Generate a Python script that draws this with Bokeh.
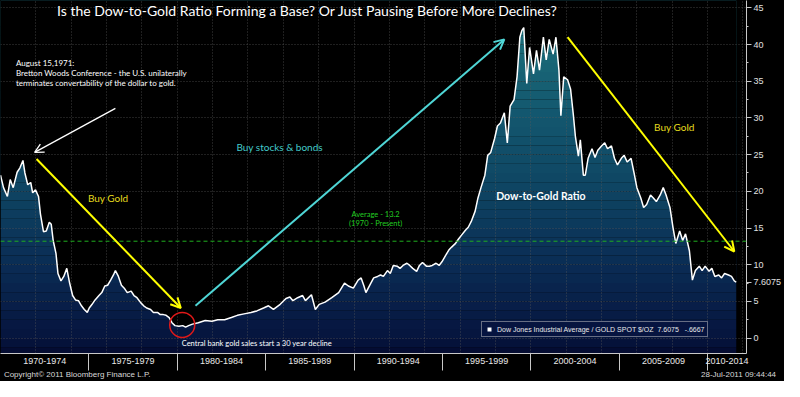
import numpy as np
from bokeh.plotting import figure
from bokeh.models import (FixedTicker, Label, Arrow, OpenHead, Span, Legend, LegendItem,
                          LinearAxis, NumeralTickFormatter)
from bokeh.embed import file_html
from bokeh.resources import INLINE

# ---------------- data ----------------
years = [
    1970.00, 1970.17, 1970.39, 1970.55, 1970.72, 1970.94, 1971.10, 1971.27, 1971.38, 1971.54,
    1971.71, 1971.82, 1971.98, 1972.15, 1972.26, 1972.43, 1972.59, 1972.76, 1972.87, 1972.98,
    1973.14, 1973.25, 1973.42, 1973.58, 1973.75, 1973.91, 1974.08, 1974.24, 1974.41, 1974.58,
    1974.74, 1974.91, 1975.02, 1975.18, 1975.35, 1975.57, 1975.73, 1975.90, 1976.06, 1976.23,
    1976.39, 1976.50, 1976.67, 1976.84, 1977.00, 1977.17, 1977.39, 1977.55, 1977.72, 1977.94,
    1978.10, 1978.27, 1978.49, 1978.65, 1978.88, 1979.04, 1979.21, 1979.37, 1979.54, 1979.70,
    1979.87, 1980.09, 1980.31, 1980.47, 1980.64, 1980.86, 1981.19, 1981.58, 1981.96, 1982.29,
    1982.68, 1983.06, 1983.40, 1983.78, 1984.17, 1984.50, 1984.88, 1985.16, 1985.44, 1985.82,
    1986.15, 1986.37, 1986.54, 1986.81, 1987.09, 1987.25, 1987.59, 1987.81, 1988.03, 1988.36,
    1988.74, 1989.13, 1989.46, 1989.68, 1989.96, 1990.23, 1990.40, 1990.56, 1990.67, 1990.95,
    1991.11, 1991.33, 1991.50, 1991.66, 1991.89, 1992.05, 1992.22, 1992.44, 1992.60, 1992.77,
    1992.99, 1993.15, 1993.32, 1993.54, 1993.70, 1993.87, 1994.09, 1994.26, 1994.42, 1994.64,
    1994.81, 1994.97, 1995.19, 1995.36, 1995.52, 1995.74, 1995.91, 1996.07, 1996.30, 1996.46,
    1996.63, 1996.85, 1997.01, 1997.18, 1997.40, 1997.56, 1997.73, 1997.95, 1998.11, 1998.28,
    1998.50, 1998.67, 1998.83, 1999.05, 1999.22, 1999.38, 1999.49, 1999.60, 1999.77, 1999.93,
    2000.15, 2000.32, 2000.49, 2000.71, 2000.87, 2001.04, 2001.26, 2001.42, 2001.59, 2001.70,
    2001.86, 2002.08, 2002.25, 2002.41, 2002.52, 2002.69, 2002.80, 2002.97, 2003.08, 2003.24,
    2003.46, 2003.63, 2003.79, 2004.01, 2004.18, 2004.34, 2004.56, 2004.73, 2004.90, 2005.12,
    2005.28, 2005.45, 2005.67, 2005.83, 2006.00, 2006.22, 2006.38, 2006.55, 2006.77, 2006.93,
    2007.10, 2007.32, 2007.49, 2007.65, 2007.87, 2008.04, 2008.20, 2008.42, 2008.59, 2008.75,
    2008.97, 2009.14, 2009.31, 2009.53, 2009.69, 2009.86, 2010.08, 2010.24, 2010.41, 2010.63,
    2010.79, 2010.96, 2011.18, 2011.35, 2011.51, 2011.62,
]
ratio = [
    22.2, 20.5, 19.3, 21.6, 20.5, 22.6, 23.2, 24.2, 22.5, 20.9,
    21.2, 19.8, 20.2, 19.3, 16.9, 14.5, 14.6, 15.8, 15.5, 13.3,
    11.5, 8.8, 7.8, 8.4, 9.5, 7.5, 5.8, 5.2, 5.1, 4.4,
    3.9, 3.5, 4.1, 4.6, 5.2, 5.8, 6.2, 7.1, 7.2, 7.9,
    8.6, 9.2, 8.4, 7.2, 6.8, 6.2, 6.4, 5.8, 5.5, 4.8,
    4.4, 4.1, 3.9, 3.5, 3.5, 3.2, 3.2, 3.1, 2.8, 2.1,
    1.7, 1.6, 1.7, 1.5, 1.7, 1.9, 2.1, 2.4, 2.3, 2.5,
    2.5, 2.8, 3.1, 3.3, 3.5, 3.7, 4.1, 4.4, 3.9, 4.6,
    5.4, 5.6, 5.1, 5.5, 5.8, 5.1, 5.9, 3.9, 4.6, 4.9,
    5.5, 6.2, 7.5, 7.1, 6.8, 7.9, 8.2, 7.1, 6.2, 7.5,
    8.2, 8.4, 8.6, 8.4, 9.2, 8.8, 9.9, 9.8, 9.5, 9.9,
    10.2, 9.9, 9.5, 9.1, 9.9, 10.3, 9.8, 9.8, 9.9, 10.2,
    9.9, 10.4, 11.3, 12.0, 12.4, 12.9, 13.5, 14.0, 14.7, 15.1,
    15.9, 17.3, 19.1, 20.5, 22.2, 24.9, 25.3, 27.2, 28.9, 29.3,
    30.7, 26.6, 31.6, 32.5, 35.6, 41.0, 41.9, 42.3, 34.7, 39.6,
    36.0, 39.2, 36.5, 41.0, 37.9, 40.7, 38.7, 41.0, 36.5, 30.3,
    35.6, 35.2, 33.9, 30.3, 27.5, 24.8, 27.0, 22.2, 22.2, 24.5,
    25.8, 24.6, 25.6, 26.2, 26.6, 25.8, 26.2, 24.5, 23.6, 24.5,
    24.9, 24.0, 24.5, 22.6, 20.5, 19.1, 17.8, 18.2, 19.5, 19.1,
    18.6, 19.5, 20.5, 19.5, 17.8, 15.1, 12.9, 14.6, 13.3, 14.2,
    11.9, 7.9, 9.2, 9.8, 9.2, 9.8, 9.1, 9.5, 8.4, 8.6,
    8.2, 8.8, 8.6, 8.4, 7.8, 7.6075,
]
average = 13.2
change = "-.6667"
periods = ["1970-1974", "1975-1979", "1980-1984", "1985-1989", "1990-1994",
           "1995-1999", "2000-2004", "2005-2009", "2010-2014"]
period_starts = [1970, 1975, 1980, 1985, 1990, 1995, 2000, 2005, 2010]
y_ticks = [0, 5, 10, 15, 20, 25, 30, 35, 40, 45]
copyright_text = "Copyright\u00a9 2011 Bloomberg Finance L.P."
stamp_text = "28-Jul-2011 09:44:44"

# annotation anchor points (year, ratio)
white_arrow = (1976.5, 31.3, 1971.93, 25.3)
gold_arrow_1 = (1972.04, 24.4, 1980.2, 4.1)
stocks_arrow = (1981.03, 4.4, 1998.5, 40.7)
gold_arrow_2 = (2002.08, 41.0, 2011.51, 11.8)
bottom_circle = (1980.28, 1.8)

# ---------------- layout ----------------
W, H = 784, 381
X_START, X_END = 1970.0, 2012.2
Y_START, Y_END = -2.1, 46.0
FRAME_W_EST = 749
PX_PER_YEAR = FRAME_W_EST / (X_END - X_START)

p = figure(width=W, height=H, x_range=(X_START, X_END), y_range=(Y_START, Y_END),
           y_axis_location="right", output_backend="svg", toolbar_location=None,
           min_border_left=0, min_border_top=0, min_border_right=0,
           min_border_bottom=0, background_fill_color="black",
           border_fill_color="black", border_fill_alpha=1.0, outline_line_color=None,
           styles={"background-color": "black"})

# vertical gradient bands under the curve
edges = np.arange(-2.5, 46.26, 1.25)
stop_v = [-2.5, 0, 10, 20, 30, 40, 46]
stop_c = np.array([[3, 10, 46], [6, 20, 62], [10, 44, 84], [14, 68, 98],
                   [19, 86, 110], [26, 106, 120], [30, 116, 128]], dtype=float)
mids = (edges[:-1] + edges[1:]) / 2
cols = ["#%02x%02x%02x" % tuple(int(round(np.interp(m, stop_v, stop_c[:, k]))) for k in range(3))
        for m in mids]
p.quad(left=years[0], right=years[-1], bottom=edges[:-1], top=edges[1:],
       fill_color=cols, line_color=None, level="image")
p.varea(x=years, y1=ratio, y2=Y_END + 5, fill_color="black", level="image")

# grid
p.xgrid.ticker = FixedTicker(ticks=list(range(1970, 2014, 2)))
p.ygrid.ticker = FixedTicker(ticks=y_ticks)
for g in (p.xgrid, p.ygrid):
    g.grid_line_color = "#5a5a5a"
    g.grid_line_dash = "1 2"
    g.grid_line_alpha = 0.7

# series line
p.line(years, ratio, line_color="white", line_width=1.5)

# average line
p.add_layout(Span(location=average, dimension="width", line_color="#1fae1f",
                  line_dash="4 3", line_width=1))

# x axis: period labels centred in their bands, long separators at band edges
centers = [(s + min(s + 5, X_END)) / 2 for s in period_starts]
xa = p.xaxis[0]
xa.ticker = FixedTicker(ticks=centers, minor_ticks=period_starts[1:])
xa.major_label_overrides = {c: t for c, t in zip(centers, periods)}
xa.major_tick_out = 0
xa.major_tick_in = 0
xa.minor_tick_out = 17
xa.minor_tick_in = 0
xa.major_label_standoff = -13
xa.major_label_text_font = "Liberation Sans"
xa.major_label_text_font_size = "9px"
xa.major_label_text_color = "#e8e8e8"
xa.axis_line_color = "#c8c8c8"
xa.minor_tick_line_color = "#c8c8c8"

# footer row (copyright at left, time stamp at right)
copy_x = X_START + 77 / PX_PER_YEAR
stamp_x = X_START + (W - 43) / PX_PER_YEAR
fa = LinearAxis(ticker=FixedTicker(ticks=[copy_x, stamp_x], minor_ticks=[]),
                major_label_overrides={copy_x: copyright_text, stamp_x: stamp_text},
                major_tick_out=0, major_tick_in=0, minor_tick_out=0, minor_tick_in=0,
                axis_line_color=None,
                major_label_standoff=3, major_label_text_font="Liberation Sans",
                major_label_text_font_size="8px", major_label_text_color="#d8d8d8")
p.add_layout(fa, "below")

# right axis, with the last value tagged
ya = p.yaxis[0]
ya.ticker = FixedTicker(ticks=y_ticks + [ratio[-1]], minor_ticks=[t + 2.5 for t in y_ticks])
ya.formatter = NumeralTickFormatter(format="0")
ya.major_label_overrides = {ratio[-1]: f"{ratio[-1]:.4f}"}
ya.major_tick_out = 5
ya.major_tick_in = 0
ya.minor_tick_out = 2
ya.minor_tick_in = 0
ya.major_label_standoff = 2
ya.major_label_text_font = "Liberation Sans"
ya.major_label_text_font_size = "9px"
ya.major_label_text_color = "#e0e0e0"
ya.axis_line_color = "#c8c8c8"
ya.major_tick_line_color = "#c8c8c8"
ya.minor_tick_line_color = "#c8c8c8"

# title
p.add_layout(Label(x=1973.2, y=44.6,
                   text="Is the Dow-to-Gold Ratio Forming a Base? Or Just Pausing Before More Declines?",
                   text_baseline="middle", text_font="Lato", text_font_size="14px",
                   text_color="white"))

# annotations
anno_font = "Lato"
for txt, yy in [("August 15,1971:", 37.5),
                ("Bretton Woods Conference - the U.S. unilaterally", 36.1),
                ("terminates convertability of the dollar to gold.", 34.7)]:
    p.add_layout(Label(x=1970.87, y=yy, text=txt, text_baseline="middle", text_font=anno_font,
                       text_font_size="8px", text_color="white"))

def arrow(pts, color, width, size):
    x0, y0, x1, y1 = pts
    p.add_layout(Arrow(end=OpenHead(size=size, line_color=color, line_width=width),
                       x_start=x0, y_start=y0, x_end=x1, y_end=y1,
                       line_color=color, line_width=width))

arrow(white_arrow, "white", 1.3, 9)
arrow(gold_arrow_1, "#ffff00", 2, 10)
arrow(stocks_arrow, "#4fd6d6", 2, 10)
arrow(gold_arrow_2, "#ffff00", 2, 10)

p.scatter(x=[bottom_circle[0]], y=[bottom_circle[1]], size=25, marker="circle",
          fill_alpha=0, line_color="#e01818", line_width=1.5)

def text(x, y, t, color, size="10px", style="normal", align="center"):
    p.add_layout(Label(x=x, y=y, text=t, text_align=align, text_baseline="middle",
                       text_font=anno_font, text_font_size=size, text_color=color,
                       text_font_style=style))

text(1976.09, 19.1, "Buy Gold", "#e6dc1e")
text(1985.79, 26.0, "Buy stocks & bonds", "#44cccc")
text(1991.22, 16.9, "Average - 13.2", "#22cc22", "7.5px")
text(1991.22, 15.6, "(1970 - Present)", "#22cc22", "7.5px")
text(2000.57, 19.3, "Dow-to-Gold Ratio", "white", "10.5px", "bold")
text(2008.12, 28.7, "Buy Gold", "#e6dc1e")
text(1980.25, -0.74, "Central bank gold sales start a 30 year decline", "white", "7.5px",
     align="left")

# legend
dummy = p.scatter(x=[years[-1]], y=[ratio[-1]], size=0, marker="square",
                  fill_color="white", line_color="white", line_alpha=0)
legend = Legend(items=[LegendItem(label=f"Dow Jones Industrial Average / GOLD SPOT $/OZ  {ratio[-1]:.4f}   {change}",
                                  renderers=[dummy])],
                location=(481, 16), orientation="horizontal",
                label_text_font="Liberation Sans", label_text_font_size="7px",
                label_text_color="#e8e8e8", border_line_color="#c8c8c8",
                border_line_width=1, background_fill_color="#061440",
                background_fill_alpha=1, padding=2, spacing=0, margin=0,
                glyph_width=10, glyph_height=10, label_standoff=3, label_height=10)
p.add_layout(legend, "center")

open("out.html", "w").write(file_html(p, INLINE))
